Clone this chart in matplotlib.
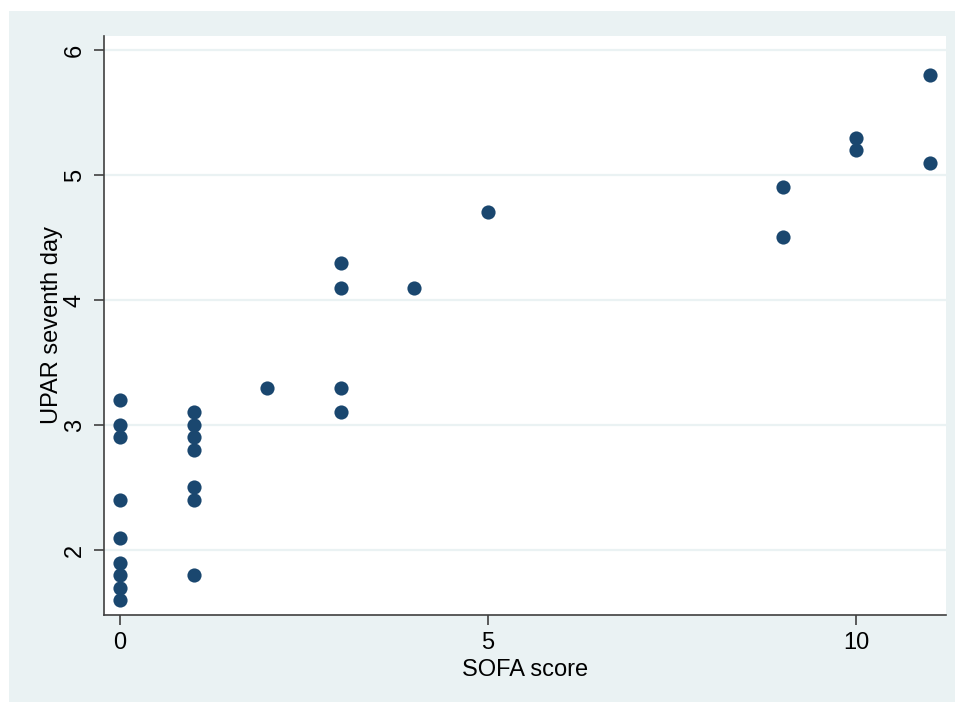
import matplotlib
matplotlib.use("Agg")
import matplotlib.pyplot as plt

# SOFA score vs uPAR on day seven
sofa = [0, 0, 0, 0, 0, 0, 0, 0, 0,
        1, 1, 1, 1, 1, 1, 1,
        2,
        3, 3, 3, 3,
        4,
        5,
        9, 9,
        10, 10,
        11, 11]
upar = [3.2, 3.0, 2.9, 2.4, 2.1, 1.9, 1.8, 1.7, 1.6,
        3.1, 3.0, 2.9, 2.8, 2.5, 2.4, 1.8,
        3.3,
        4.3, 4.1, 3.3, 3.1,
        4.1,
        4.7,
        4.9, 4.5,
        5.3, 5.2,
        5.8, 5.1]
xticks = [0, 5, 10]
yticks = [2, 3, 4, 5, 6]

bg = "#eaf2f3"
navy = "#1a476f"

plt.rcParams["font.family"] = ["Liberation Sans", "DejaVu Sans"]

W, H = 955, 702
fig = plt.figure(figsize=(W / 100, H / 100), dpi=100)
fig.patch.set_facecolor("white")
# stata-ish outer panel, cropped at right/bottom
fig.patches.append(plt.Rectangle((9 / W, 0), 1, 1 - 11 / H, transform=fig.transFigure,
                                 facecolor=bg, edgecolor="none", zorder=-5))

ax = fig.add_axes([104 / W, 1 - 615 / H, (946 - 104) / W, (615 - 36) / H])
ax.set_zorder(1)
ax.set_facecolor("white")
ax.scatter(sofa, upar, s=104, color=navy, zorder=3, linewidths=0)

ax.set_xlim(-0.217, 11.22)
ax.set_ylim(1.48, 6.112)
ax.set_xticks(xticks)
ax.set_yticks(yticks)
ax.grid(axis="y", color=bg, linewidth=1.6, zorder=1)
ax.grid(axis="x", visible=False)

for s in ["top", "right"]:
    ax.spines[s].set_visible(False)
for s in ["left", "bottom"]:
    ax.spines[s].set_color("#404040")
    ax.spines[s].set_linewidth(1.2)

ax.tick_params(axis="both", direction="out", length=7, width=1.2, color="#404040",
               labelsize=17, pad=5)
ax.tick_params(axis="y", pad=6)
for lab in ax.get_yticklabels():
    lab.set_rotation(90)
    lab.set_va("center")

ax.set_xlabel("SOFA score", fontsize=17, labelpad=4)
ax.set_ylabel("UPAR seventh day", fontsize=17, labelpad=1)

fig.savefig("out.png", dpi=100, facecolor=fig.get_facecolor())
